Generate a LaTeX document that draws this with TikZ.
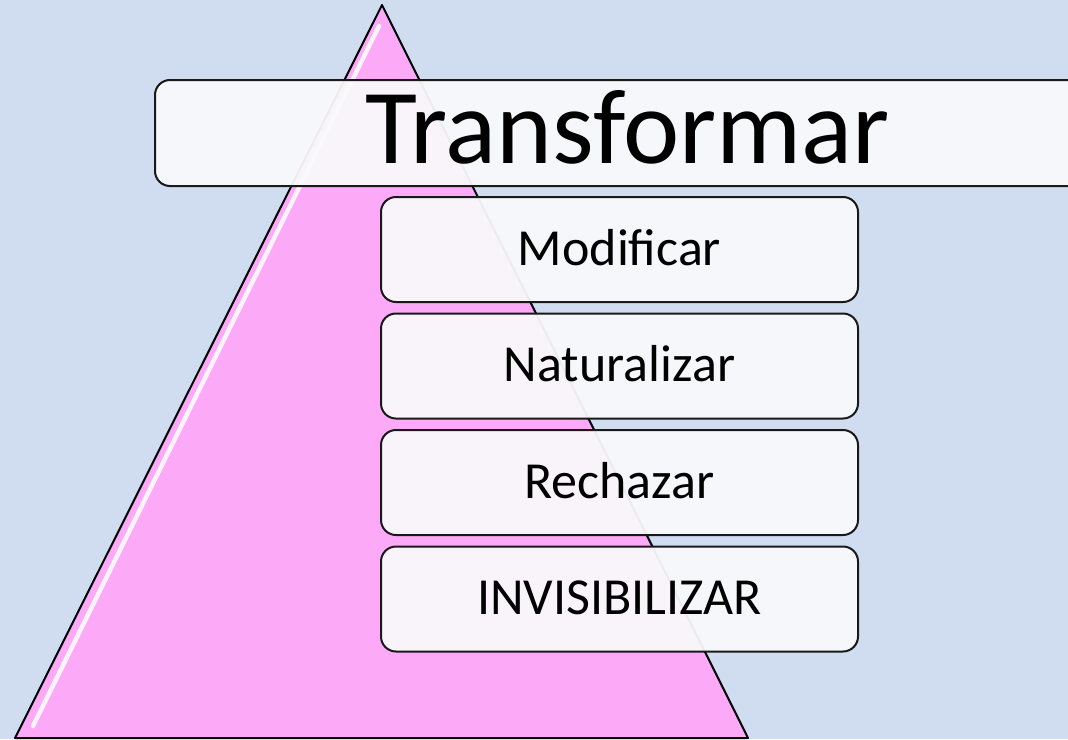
\documentclass[tikz,border=0pt]{standalone}
\usepackage{fontspec}
\setmainfont{Carlito}
\usetikzlibrary{positioning}

\definecolor{bgblue}{HTML}{D0DDF0}
\definecolor{pyrpink}{HTML}{FCAAF8}
\definecolor{boxfill}{HTML}{F9F9FB}

\tikzset{
	levelbox/.style = {draw = black!90, line width = 2pt, rounded corners = 15pt,
		fill = boxfill, fill opacity = 0.95, text opacity = 1, inner sep = 0pt},
	smallbox/.style = {levelbox, minimum width = 477pt, minimum height = 105pt,
		font = \fontsize{52}{60}\selectfont, text height = 33pt, text depth = 2pt},
	bigbox/.style = {levelbox, minimum width = 945pt, minimum height = 106pt,
		font = \fontsize{106.5}{120}\selectfont, text height = 69pt, text depth = 8pt}
}

\begin{document}
\begin{tikzpicture}[x = 1pt, y = -1pt]
		\def\W{1068};
		\def\H{739};
		
		\useasboundingbox (0, 0) rectangle (\W, \H);
		\clip (0, 0) rectangle (\W, \H);
		\fill [bgblue] (0, 0) rectangle (\W, \H);
		
		% pyramid
		\draw [fill = pyrpink, line width = 2pt, line join = round] (382, 5) -- (15, 738) -- (748, 738) -- cycle;
		\draw [white, line width = 4.5pt, line cap = round, opacity = 0.85] (379, 26) -- (33, 726);
		
		\node [bigbox] (transformar) at (627.5, 133) {Transformar};
		\node [smallbox] (modificar) at (619.5, 249.5) {Modificar};
		\node [smallbox, below = 9.5pt of modificar] (naturalizar) {Naturalizar};
		\node [smallbox, below = 9.5pt of naturalizar] (rechazar) {Rechazar};
		\node [smallbox, below = 9.5pt of rechazar] (invisibilizar) {INVISIBILIZAR};
	\end{tikzpicture}
\end{document}
